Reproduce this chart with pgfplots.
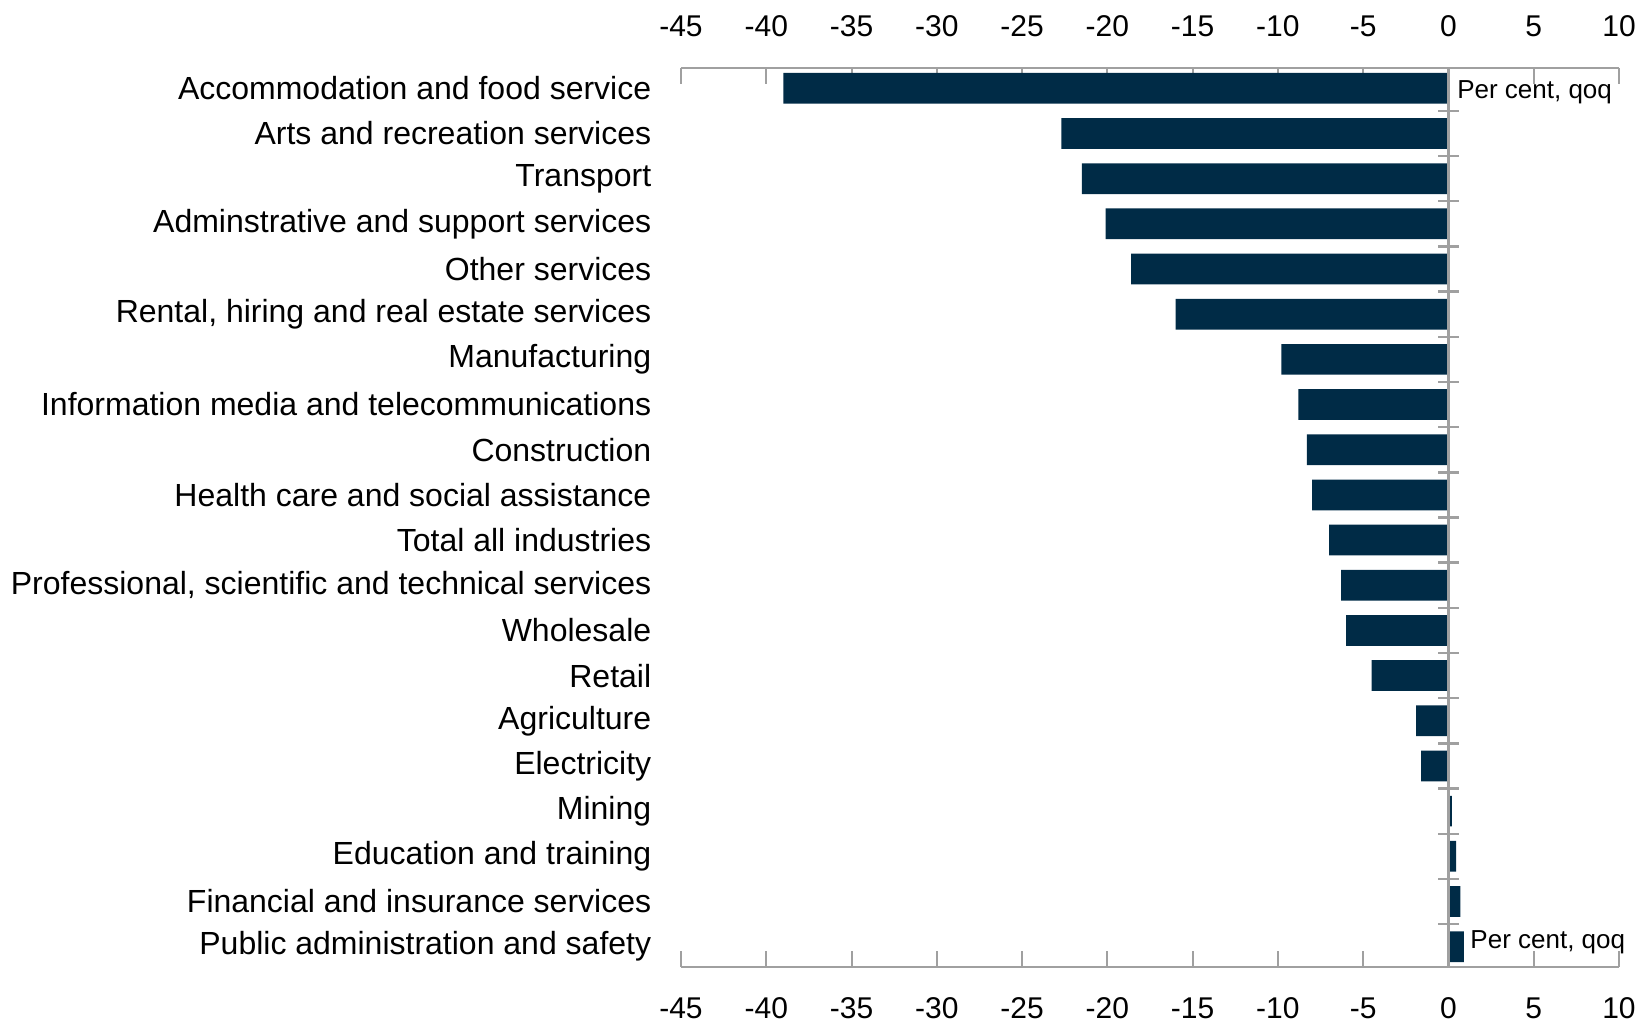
\documentclass[border=0pt]{standalone}
\usepackage{pgfplots}
\pgfplotsset{compat=1.18}
\usepackage{fontspec}
\setmainfont{Liberation Sans}
\definecolor{barcol}{RGB}{0,43,70}
\definecolor{linecol}{RGB}{160,160,160}
\pgfplotstableread{
idx val
0 -39.0
1 -22.7
2 -21.5
3 -20.1
4 -18.6
5 -16.0
6 -9.8
7 -8.8
8 -8.3
9 -8.0
10 -7.0
11 -6.3
12 -6.0
13 -4.5
14 -1.9
15 -1.6
16 0.2
17 0.45
18 0.7
19 0.9
}\datatable
\begin{document}
\begin{tikzpicture}
\pgfplotsset{
  common/.style={
    scale only axis, width=234.5pt, height=224.75pt,
    xmin=-45, xmax=10, ymin=-0.45, ymax=19.45, y dir=reverse,
    xtick={-45,-40,...,10},
    /pgf/number format/assume math mode=true,
    xticklabel style={font=\fontsize{7.5}{9}\selectfont, inner sep=0pt},
    xticklabel shift=7.5pt,
  }
}
\begin{axis}[common,
  clip=false,
  separate axis lines,
  y axis line style={draw=none},
  x axis line style={draw=linecol, line width=0.6pt},
  xtick style={draw=linecol, line width=0.5pt},
  major tick length=4pt,
  tick align=inside,
  xtick pos=both,
  xticklabel pos=bottom,
  ytick={0,...,19},
  ytick style={draw=none},
  yticklabels={Accommodation and food service, Arts and recreation services, Transport, Adminstrative and support services, Other services, {Rental, hiring and real estate services}, Manufacturing, Information media and telecommunications, Construction, Health care and social assistance, Total all industries, {Professional, scientific and technical services}, Wholesale, Retail, Agriculture, Electricity, Mining, Education and training, Financial and insurance services, Public administration and safety},
  yticklabel style={font=\fontsize{8}{9.6}\selectfont, inner sep=0pt, anchor=east},
  yticklabel shift=7.25pt,
]
\addplot[xbar, bar width=0.68, fill=barcol, draw=none] table[x=val, y=idx] {\datatable};
\draw[linecol, line width=0.6pt] (axis cs:0,-0.45) -- (axis cs:0,19.45);
\pgfplotsinvokeforeach{0,...,18}{
  \draw[linecol, line width=0.6pt] (axis cs:-0.6,#1+0.5) -- (axis cs:0.6,#1+0.5);
}
\node[anchor=west, inner sep=0pt, font=\fontsize{6.5}{7.8}\selectfont] at (axis cs:0,0.08) [xshift=2pt] {Per cent, qoq};
\node[anchor=west, inner sep=0pt, font=\fontsize{6.5}{7.8}\selectfont] at (axis cs:0,18.9) [xshift=5.3pt] {Per cent, qoq};
\coordinate (bl) at (axis cs:-45,19.45);
\coordinate (tr) at (axis cs:10,-0.45);
\end{axis}
\begin{axis}[common,
  axis line style={draw=none},
  xtick style={draw=none},
  xticklabel pos=top,
  ytick=\empty,
]
\end{axis}
\pgfresetboundingbox
\useasboundingbox ([shift={(-170.25pt,-13.75pt)}]bl) rectangle ([shift={(7.25pt,17pt)}]tr);
\end{tikzpicture}
\end{document}
